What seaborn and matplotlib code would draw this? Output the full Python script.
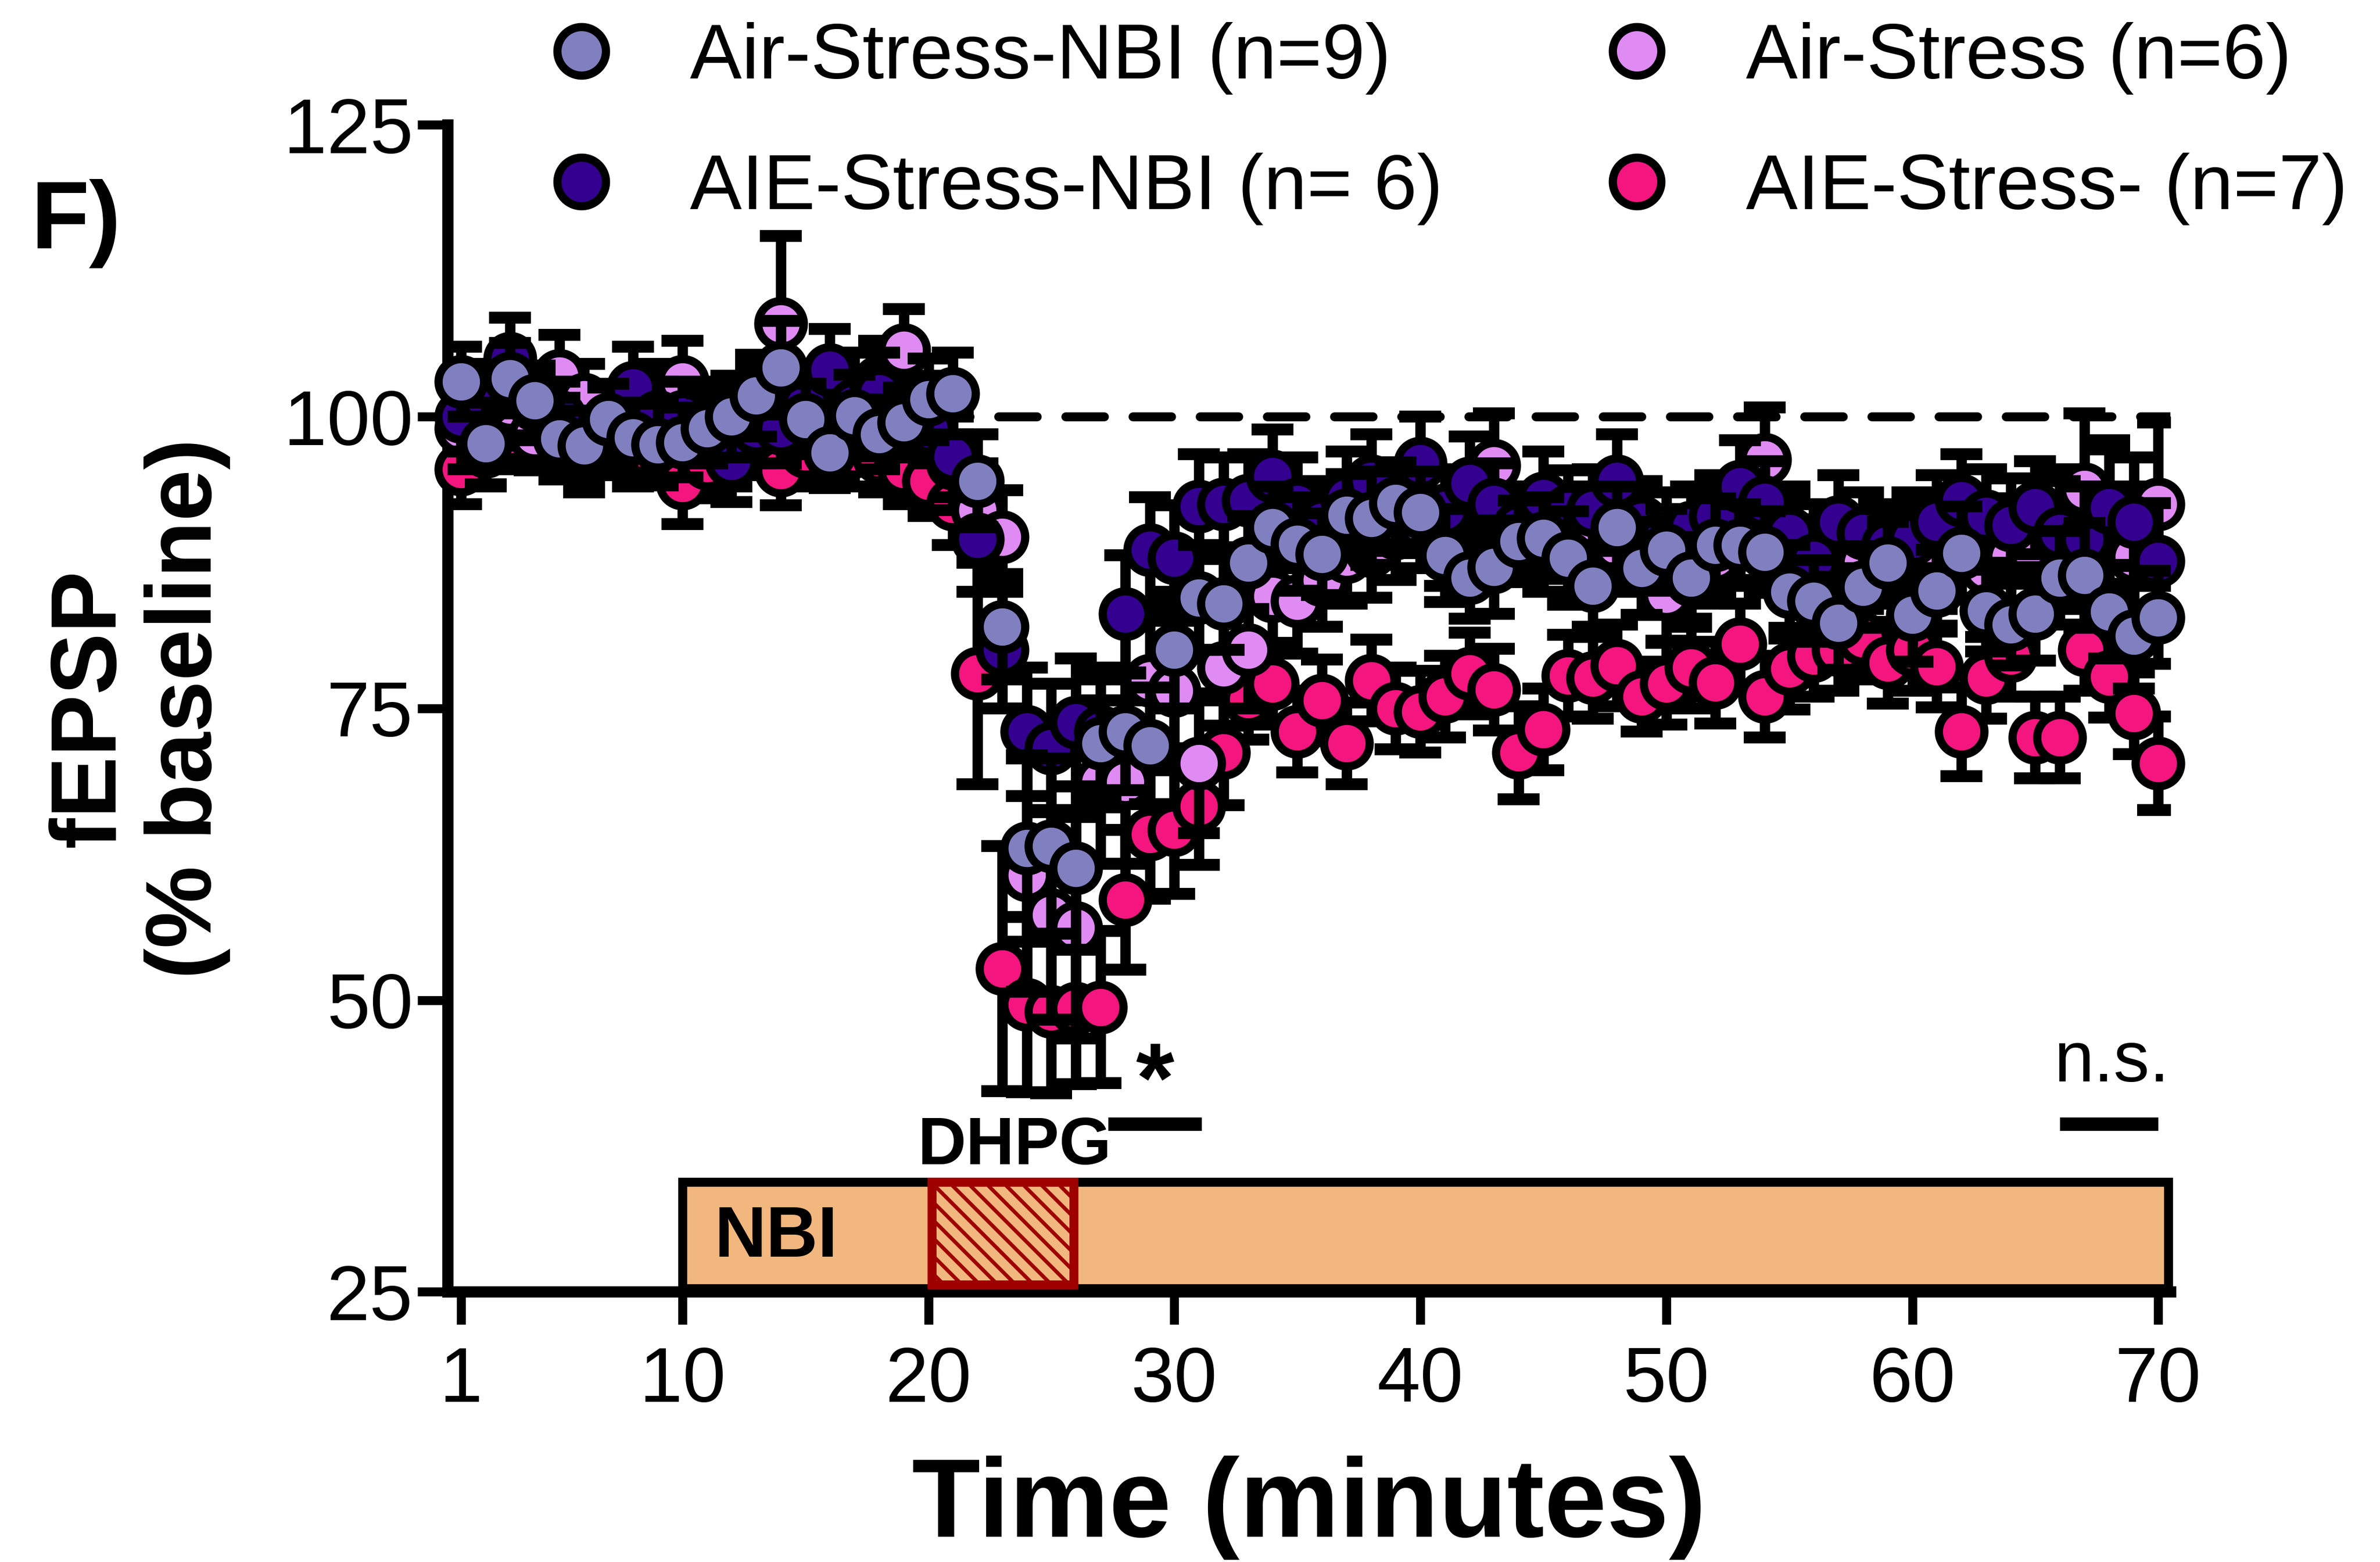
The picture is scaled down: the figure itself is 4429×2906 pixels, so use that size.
import numpy as np
import pandas as pd
import matplotlib
matplotlib.use("Agg")
import matplotlib.pyplot as plt
import seaborn as sns
from matplotlib.patches import Rectangle
from matplotlib.lines import Line2D

# ---------------- data ----------------
minutes = list(range(1, 71))

air_stress_nbi = [103.0, 97.7, 103.3, 101.4, 98.1, 97.5, 99.8, 98.2, 97.6, 97.8,
                  99.0, 100.0, 101.8, 104.2, 99.8, 96.9, 100.1, 98.5, 99.5, 101.5,
                  102.0, 94.5, 82.0, 63.0, 63.2, 61.3, 72.0, 73.0, 71.8, 80.0,
                  84.5, 84.0, 87.5, 90.5, 89.1, 88.2, 91.6, 91.3, 92.6, 91.8,
                  88.1, 86.2, 87.1, 89.3, 89.6, 87.9, 85.5, 90.5, 87.0, 88.6,
                  86.2, 89.0, 89.0, 88.4, 85.0, 84.2, 82.3, 85.4, 87.5, 83.0,
                  85.1, 88.3, 83.4, 82.2, 83.1, 86.2, 86.4, 83.3, 81.2, 82.8]
air_stress_nbi_sem = [3.0, 3.5, 3.0, 3.0, 3.5, 3.0, 3.0, 3.0, 3.5, 3.0,
                      3.0, 3.5, 3.5, 4.0, 3.0, 3.0, 3.5, 3.0, 3.0, 3.5,
                      3.5, 4.0, 4.5, 8.0, 7.5, 7.0, 5.5, 5.0, 5.0, 5.0,
                      4.5, 4.0, 4.0, 3.5, 4.0, 3.5, 3.5, 4.0, 3.5, 3.5,
                      4.0, 3.5, 4.0, 3.5, 3.5, 4.0, 3.5, 3.5, 4.0, 3.5,
                      3.5, 4.0, 3.5, 3.5, 4.0, 3.5, 4.0, 3.5, 3.5, 4.0,
                      3.5, 4.0, 3.5, 3.5, 4.0, 4.0, 4.5, 4.0, 4.5, 4.0]

air_stress = [99.0, 99.5, 101.0, 98.4, 103.5, 101.5, 99.0, 100.0, 101.0, 103.0,
              100.0, 99.0, 101.0, 108.0, 101.0, 99.5, 102.0, 103.0, 105.7, 100.0,
              96.0, 92.0, 89.7, 60.7, 57.3, 56.2, 68.7, 68.7, 77.4, 76.5,
              70.3, 78.5, 80.0, 84.6, 84.2, 86.0, 88.0, 88.5, 90.0, 91.0,
              89.5, 91.0, 95.8, 90.0, 89.0, 88.5, 90.0, 89.0, 87.0, 84.8,
              86.0, 88.0, 90.0, 96.3, 90.0, 88.5, 87.0, 87.5, 88.0, 89.0,
              88.0, 89.0, 87.0, 88.0, 88.0, 90.0, 93.8, 91.5, 88.0, 92.5]
air_stress_sem = [3.5, 3.0, 3.5, 3.0, 3.5, 3.0, 3.5, 3.0, 3.5, 3.5,
                  3.0, 3.5, 3.5, 7.5, 3.5, 3.0, 3.5, 3.5, 3.5, 3.5,
                  4.0, 4.0, 4.0, 10.0, 9.0, 9.5, 7.0, 7.0, 6.0, 6.0,
                  6.0, 5.0, 5.0, 4.5, 4.5, 4.0, 4.0, 4.0, 4.0, 4.0,
                  4.0, 4.0, 4.5, 4.0, 4.0, 4.0, 4.0, 4.0, 4.0, 4.0,
                  4.0, 4.0, 4.0, 4.5, 4.0, 4.0, 4.0, 4.0, 4.0, 4.5,
                  4.5, 4.5, 4.5, 5.0, 5.0, 5.5, 6.5, 6.5, 6.0, 7.0]

aie_stress_nbi = [100.0, 101.5, 105.0, 101.0, 100.0, 97.0, 99.5, 102.5, 100.0, 100.0,
                  99.0, 96.2, 99.0, 99.0, 101.0, 104.0, 101.0, 102.0, 100.0, 99.0,
                  96.6, 89.5, 80.0, 73.0, 71.6, 73.8, 73.0, 83.1, 88.6, 87.9,
                  92.3, 92.5, 92.8, 94.9, 92.5, 91.0, 93.0, 94.5, 92.0, 96.0,
                  92.0, 94.3, 92.5, 90.5, 93.0, 91.9, 92.0, 94.5, 91.0, 90.0,
                  90.5, 91.5, 94.0, 92.7, 90.0, 87.7, 91.0, 90.0, 89.0, 89.5,
                  91.0, 92.8, 91.5, 90.7, 92.2, 90.0, 89.5, 92.2, 91.0, 87.6]
aie_stress_nbi_sem = [3.0, 3.0, 3.5, 3.0, 3.0, 3.5, 3.0, 3.5, 3.0, 3.0,
                      3.0, 3.5, 3.0, 3.0, 3.0, 3.5, 3.0, 3.5, 3.0, 3.0,
                      3.5, 4.5, 5.0, 5.5, 5.5, 5.5, 5.5, 5.0, 4.5, 4.5,
                      4.5, 4.0, 4.0, 4.0, 4.0, 3.5, 4.0, 4.0, 3.5, 4.0,
                      3.5, 4.0, 3.5, 3.5, 4.0, 3.5, 3.5, 4.0, 3.5, 3.5,
                      3.5, 3.5, 4.0, 3.5, 3.5, 3.5, 4.0, 3.5, 3.5, 3.5,
                      4.0, 4.0, 4.0, 4.0, 4.0, 4.5, 4.5, 5.0, 5.5, 5.0]

aie_stress = [95.5, 97.0, 98.5, 99.0, 98.0, 97.5, 98.0, 97.0, 97.5, 94.3,
              96.0, 97.0, 98.0, 95.4, 97.0, 98.0, 97.0, 96.5, 95.5, 94.5,
              92.5, 78.0, 52.7, 49.6, 49.0, 49.3, 49.4, 58.6, 64.2, 64.6,
              66.6, 71.2, 75.8, 77.1, 73.0, 75.7, 72.0, 77.4, 75.0, 74.7,
              76.0, 78.0, 76.6, 71.2, 73.2, 77.8, 77.6, 78.7, 76.0, 77.1,
              78.5, 77.2, 80.5, 76.0, 78.4, 79.5, 80.0, 81.0, 78.9, 80.0,
              78.6, 73.0, 77.6, 79.5, 72.5, 72.5, 80.0, 77.7, 74.6, 70.3]
aie_stress_sem = [3.0, 3.0, 3.0, 3.0, 3.0, 3.0, 3.0, 3.0, 3.0, 3.5,
                  3.0, 3.0, 3.0, 3.0, 3.0, 3.0, 3.0, 3.0, 3.0, 3.0,
                  3.5, 9.5, 10.5, 7.5, 7.0, 6.5, 6.5, 6.0, 5.5, 5.5,
                  5.0, 4.5, 3.5, 3.5, 3.5, 3.5, 3.5, 3.5, 3.5, 3.5,
                  3.5, 3.5, 3.5, 4.0, 3.5, 3.5, 3.5, 3.5, 3.0, 3.5,
                  3.5, 3.5, 3.5, 3.5, 3.5, 3.5, 3.5, 3.5, 3.5, 3.5,
                  3.5, 3.8, 3.5, 3.5, 3.5, 3.5, 3.5, 3.5, 3.5, 4.0]

labels = ["Air-Stress-NBI (n=9)", "Air-Stress (n=6)",
          "AIE-Stress-NBI (n= 6)", "AIE-Stress- (n=7)"]
colors = ["#8080C0", "#DF8BF3", "#33008F", "#F5157F"]

x_ticks = [1, 10, 20, 30, 40, 50, 60, 70]
y_ticks = [25, 50, 75, 100, 125]

# ---------------- build table ----------------
series_vals = [air_stress_nbi, air_stress, aie_stress_nbi, aie_stress]
series_sem = [air_stress_nbi_sem, air_stress_sem, aie_stress_nbi_sem, aie_stress_sem]
frames = []
for lab, v, e in zip(labels, series_vals, series_sem):
    frames.append(pd.DataFrame({"minute": minutes, "value": v, "sem": e, "group": lab}))
df = pd.concat(frames, ignore_index=True)

# ---------------- style ----------------
sns.set_theme(style="ticks")
plt.rcParams["font.family"] = ["Liberation Sans", "DejaVu Sans"]
plt.rcParams["hatch.linewidth"] = 2.5
plt.rcParams["text.color"] = "black"
plt.rcParams["axes.labelcolor"] = "black"
plt.rcParams["xtick.color"] = "black"
plt.rcParams["ytick.color"] = "black"
plt.rcParams["axes.edgecolor"] = "black"

fig = plt.figure(figsize=(22.145, 14.53), dpi=200)
ax = fig.add_axes([0.188, 0.173, 0.724, 0.747])

XMIN, XMAX = 0.45, 70.5
ax.set_xlim(XMIN, XMAX)
ax.set_ylim(25, 125)

# baseline reference
ax.axhline(100, xmin=(1 - XMIN) / (XMAX - XMIN), xmax=1.0, color="black",
           lw=6, ls=(0, (4.3, 3.2)), dash_capstyle="round", zorder=2)

# draw order: pink bottom, then violet, indigo, ASN on top
draw_order = [3, 1, 2, 0]
for k, idx in enumerate(draw_order):
    lab = labels[idx]
    sub = df[df["group"] == lab]
    z = 3 + k
    ax.errorbar(sub["minute"], sub["value"], yerr=sub["sem"], fmt="none",
                ecolor="black", elinewidth=7, capsize=14, capthick=8, zorder=z)
    sns.scatterplot(data=sub, x="minute", y="value", color=colors[idx], s=930,
                    edgecolor="black", linewidth=5.5, zorder=z + 0.5,
                    clip_on=False, legend=False, ax=ax)

# NBI bar and DHPG box
ax.add_patch(Rectangle((10, 25.3), 60.4, 9.1, facecolor="#F2B77E",
                       edgecolor="black", lw=6, zorder=2.6, clip_on=False))
ax.add_patch(Rectangle((20.15, 25.6), 5.75, 8.8, facecolor="#F2B77E",
                       edgecolor="#9E0000", hatch="\\\\", lw=6, zorder=2.7,
                       clip_on=False))
ax.text(13.8, 29.6, "NBI", fontsize=48, fontweight="bold", ha="center",
        va="center", zorder=10)
ax.text(23.5, 37.4, "DHPG", fontsize=45, fontweight="bold", ha="center",
        va="center", zorder=10)

# significance marks
ax.plot([27.3, 31.1], [39.4, 39.4], color="black", lw=9, solid_capstyle="butt", zorder=10)
ax.text(29.2, 42.6, "*", fontsize=66, fontweight="bold", ha="center",
        va="center", zorder=10)
ax.plot([66.0, 70.0], [39.4, 39.4], color="black", lw=9, solid_capstyle="butt", zorder=10)
ax.text(68.1, 44.6, "n.s.", fontsize=48, ha="center", va="center", zorder=10)

# axes styling
ax.set_xticks(x_ticks)
ax.set_yticks(y_ticks)
ax.set_xticklabels([str(t) for t in x_ticks])
ax.set_yticklabels([str(t) for t in y_ticks])
for side in ["top", "right"]:
    ax.spines[side].set_visible(False)
for side in ["left", "bottom"]:
    ax.spines[side].set_linewidth(7.5)
    ax.spines[side].set_color("black")
    ax.spines[side].set_zorder(2.5)
ax.tick_params(axis="x", direction="out", length=22, width=6, pad=14,
               labelsize=52, colors="black")
ax.tick_params(axis="y", direction="out", length=20, width=6, pad=3,
               labelsize=52, colors="black")

ax.set_xlabel("Time (minutes)", fontsize=75, fontweight="bold", color="black")
ax.xaxis.set_label_coords(0.5, -0.185)
ax.xaxis.label.set_va("center")
ax.set_ylabel("fEPSP\n(% baseline)", fontsize=62, fontweight="bold",
              linespacing=1.15, color="black")
ax.yaxis.set_label_coords(-0.179, 0.5)
ax.yaxis.label.set_va("center")

fig.text(0.013, 0.857, "F)", fontsize=64, fontweight="bold", ha="left",
         va="center", color="black")

# legend
handles = [Line2D([], [], ls="", marker="o", ms=32.5, mfc=colors[i], mec="black",
                  mew=5.5) for i in range(4)]
order = [0, 2, 1, 3]
leg = fig.legend([handles[i] for i in order], [labels[i] for i in order],
                 loc="upper left", bbox_to_anchor=(0.228, 0.986), ncol=2, frameon=False,
                 fontsize=52, handlelength=1.0, handletextpad=0.9, columnspacing=2.0,
                 labelspacing=0.75, borderpad=0, borderaxespad=0)
for t in leg.get_texts():
    t.set_color("black")

fig.savefig("out.png", dpi=200)
